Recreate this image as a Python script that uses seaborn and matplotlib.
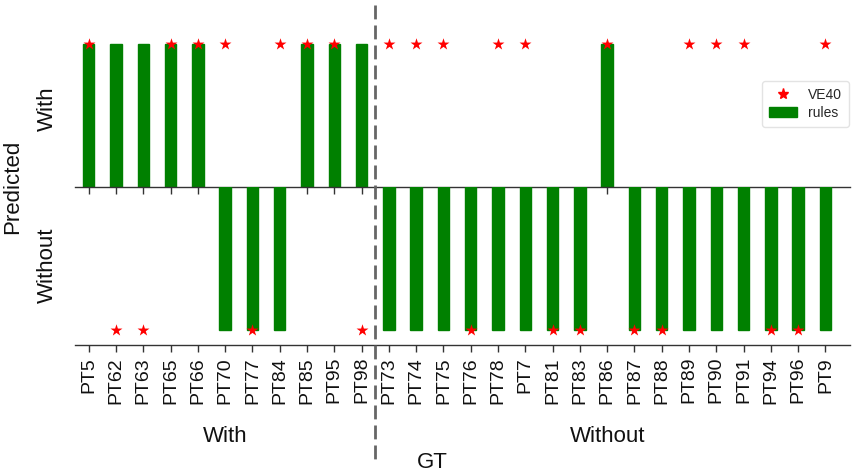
import numpy as np
import pandas as pd
import matplotlib
matplotlib.use("Agg")
import matplotlib.pyplot as plt
import matplotlib.transforms as mtransforms
from matplotlib.lines import Line2D
from matplotlib.patches import Patch
import seaborn as sns

# ---- data ----
patients_gt_with = ["PT5", "PT62", "PT63", "PT65", "PT66", "PT70", "PT77", "PT84", "PT85", "PT95", "PT98"]
patients_gt_without = ["PT73", "PT74", "PT75", "PT76", "PT78", "PT7", "PT81", "PT83", "PT86", "PT87",
                       "PT88", "PT89", "PT90", "PT91", "PT94", "PT96", "PT9"]
# +1 = predicted "With", -1 = predicted "Without"
rules_gt_with = [1, 1, 1, 1, 1, -1, -1, -1, 1, 1, 1]
rules_gt_without = [-1, -1, -1, -1, -1, -1, -1, -1, 1, -1, -1, -1, -1, -1, -1, -1, -1]
ve40_gt_with = [1, -1, -1, 1, 1, 1, -1, 1, 1, 1, -1]
ve40_gt_without = [1, 1, 1, -1, 1, 1, -1, -1, 1, -1, -1, 1, 1, 1, -1, -1, 1]
group_labels = ["With", "Without"]
y_labels = ["With", "Without"]

patients = patients_gt_with + patients_gt_without
df = pd.DataFrame({
    "patient": patients,
    "rules": rules_gt_with + rules_gt_without,
    "VE40": ve40_gt_with + ve40_gt_without,
})

sns.set_theme(style="white")
plt.rcParams["font.family"] = ["Liberation Sans", "DejaVu Sans"]

fig = plt.figure(figsize=(8.53, 4.76), dpi=100)
ax_top = fig.add_axes([0.088, 0.607, 0.9085, 0.33])
ax_bot = fig.add_axes([0.088, 0.275, 0.9085, 0.332])
ax_bot.set_facecolor("none")
ax_top.set_facecolor("none")

green = "#008000"
red = "#ff0000"

top_df = df[df["rules"] > 0]
bot_df = df[df["rules"] < 0]
sns.barplot(data=top_df, x="patient", y="rules", order=patients, ax=ax_top,
            color=green, width=0.42, saturation=1, edgecolor=green)
sns.barplot(data=bot_df, x="patient", y="rules", order=patients, ax=ax_bot,
            color=green, width=0.42, saturation=1, edgecolor=green)

ve_top = df[df["VE40"] > 0]
ve_bot = df[df["VE40"] < 0]
sns.stripplot(data=ve_top, x="patient", y="VE40", order=patients, ax=ax_top,
              jitter=False, marker="*", color=red, size=9, linewidth=0, clip_on=False, zorder=5)
sns.stripplot(data=ve_bot, x="patient", y="VE40", order=patients, ax=ax_bot,
              jitter=False, marker="*", color=red, size=9, linewidth=0, clip_on=False, zorder=5)

n = len(patients)
for ax in (ax_top, ax_bot):
    ax.set_xlim(-0.5, n - 0.1)
    for s in ("top", "right", "left"):
        ax.spines[s].set_visible(False)
    ax.spines["bottom"].set_color("#333333")
    ax.spines["bottom"].set_linewidth(1.0)
    ax.tick_params(axis="x", which="both", bottom=True, length=5, width=1, color="#333333", direction="out")
    ax.tick_params(axis="y", left=False)
    ax.set_xlabel("")
    ax.set_ylabel("")

ax_top.set_ylim(0, 1.1)
ax_bot.set_ylim(-1.105, 0)

ax_top.set_xticks(range(n))
ax_top.set_xticklabels([])
ax_bot.set_xticks(range(n))
ax_bot.set_xticklabels(patients, rotation=90, fontsize=14, color="#111111")

ax_top.set_yticks([0.55])
ax_top.set_yticklabels([y_labels[0]], rotation=90, va="center", fontsize=16, color="#111111")
ax_bot.set_yticks([-0.55])
ax_bot.set_yticklabels([y_labels[1]], rotation=90, va="center", fontsize=16, color="#111111")
ax_top.tick_params(axis="y", pad=6)
ax_bot.tick_params(axis="y", pad=6)

# divider between GT groups
sep = len(patients_gt_with) - 0.5
trans = mtransforms.blended_transform_factory(ax_bot.transData, fig.transFigure)
fig.add_artist(Line2D([sep, sep], [1 - 5 / 476, 1 - 465 / 476], transform=trans,
                      color="#666666", lw=2, linestyle=(0, (5, 2.2))))

# group labels
trans_g = mtransforms.blended_transform_factory(ax_bot.transData, fig.transFigure)
fig.text((len(patients_gt_with) - 1) / 2, 1 - 437 / 476, group_labels[0], transform=trans_g,
         ha="center", va="center", fontsize=16, color="#111111")
fig.text((len(patients_gt_with) + n - 1) / 2, 1 - 437 / 476, group_labels[1], transform=trans_g,
         ha="center", va="center", fontsize=16, color="#111111")
fig.text(432 / 853, 1 - 462 / 476, "GT", ha="center", va="center", fontsize=16, color="#111111")
fig.text(13 / 853, 1 - 187 / 476, "Predicted", ha="center", va="center", rotation=90,
         fontsize=16, color="#111111")

handles = [Line2D([], [], marker="*", color=red, linestyle="none", markersize=8),
           Patch(facecolor=green, edgecolor=green)]
leg = ax_top.legend(handles, ["VE40", "rules"], loc="upper left",
                    bbox_to_anchor=(762 / 853, 1 - 81 / 476), bbox_transform=fig.transFigure,
                    borderaxespad=0, fontsize=10, frameon=True, handlelength=2.0, borderpad=0.5,
                    labelspacing=0.3, handletextpad=0.8)
leg.get_frame().set_edgecolor("#dddddd")

fig.savefig("out.png", dpi=100)
